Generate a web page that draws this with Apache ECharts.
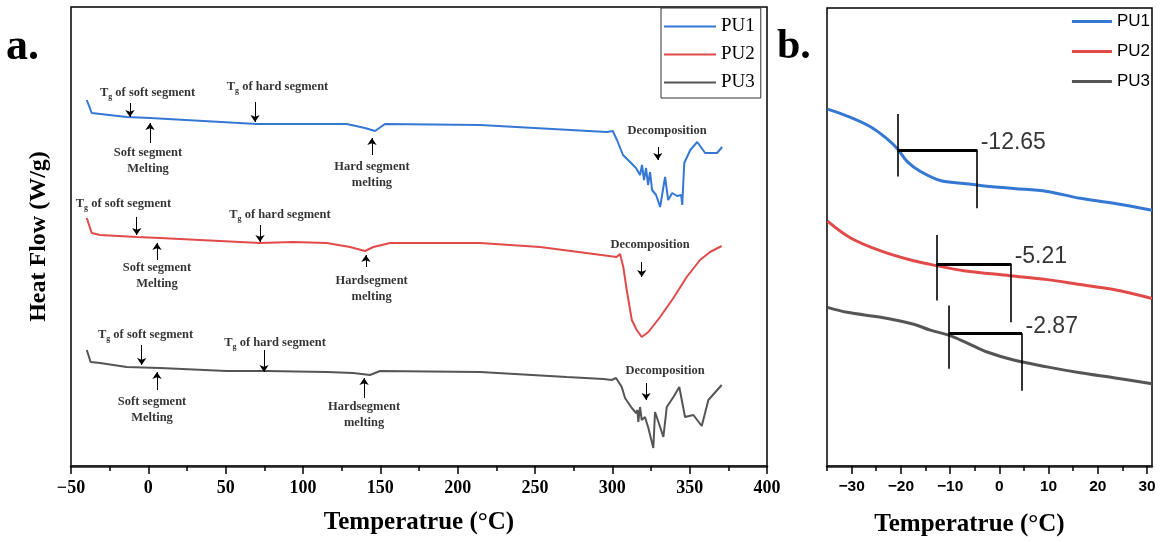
<!DOCTYPE html>
<html><head><meta charset="utf-8">
<script src="https://cdn.jsdelivr.net/npm/echarts@6/dist/echarts.min.js"></script>
<style>html,body{margin:0;padding:0;background:#fff}#c{width:1164px;height:542px}</style>
</head><body><div id="c"></div>
<script>
// ---------- DATA ----------
const seriesNames = ['PU1', 'PU2', 'PU3'];
const colors = ['#3578d4', '#e24a4a', '#555555'];

// Panel a: [temperature °C, heat flow (arbitrary, offset)]
const aPU1 = [[-39.8,3.66],[-36.6,3.53],[-14.0,3.49],[1.1,3.48],[70.1,3.42],[128.3,3.42],[140.1,3.38],[146.6,3.35],[153.0,3.42],[214.5,3.41],[296.4,3.34],[300.3,3.35],[303.0,3.26],[306.9,3.11],[311.5,3.04],[315.3,2.98],[317.9,2.91],[319.2,3.01],[320.5,2.86],[321.8,2.98],[323.1,2.81],[324.4,2.94],[325.7,2.76],[328.3,2.71],[330.9,2.59],[334.1,2.89],[336.1,2.66],[338.7,2.73],[341.9,2.70],[344.5,2.71],[345.2,2.61],[346.5,3.03],[350.4,3.16],[354.9,3.24],[360.0,3.13],[367.7,3.13],[371.0,3.19]];
const aPU2 = [[-39.8,2.48],[-36.6,2.33],[-31.2,2.31],[-7.5,2.29],[7.5,2.28],[46.3,2.25],[72.2,2.23],[93.7,2.24],[115.3,2.23],[130.4,2.19],[140.1,2.15],[145.5,2.19],[156.3,2.23],[214.5,2.23],[253.3,2.19],[302.8,2.09],[305.0,2.12],[307.1,1.99],[309.3,1.76],[312.6,1.46],[315.8,1.36],[319.0,1.29],[323.3,1.34],[330.9,1.49],[339.5,1.68],[348.1,1.89],[356.7,2.06],[363.2,2.14],[370.7,2.20]];
const aPU3 = [[-39.8,1.16],[-37.3,1.04],[-31.2,1.03],[-14.0,0.99],[7.5,0.98],[50.7,0.95],[76.5,0.95],[115.3,0.94],[132.5,0.93],[143.3,0.91],[149.8,0.95],[214.5,0.94],[270.5,0.89],[294.2,0.87],[299.6,0.86],[302.4,0.88],[306.1,0.79],[308.2,0.68],[312.6,0.58],[315.3,0.53],[316.2,0.56],[316.8,0.44],[317.9,0.59],[319.0,0.46],[321.1,0.49],[323.3,0.38],[326.5,0.18],[327.6,0.54],[330.9,0.39],[333.0,0.29],[335.2,0.59],[339.5,0.69],[343.3,0.79],[347.0,0.49],[352.4,0.51],[357.8,0.40],[362.1,0.66],[370.7,0.81]];

// Panel a annotations: [T, value, text]
const annotTextA = [
  [-0.5,3.73,'{t|T}{g|g}{t| of soft segment}'], [83.5,3.79,'{t|T}{g|g}{t| of hard segment}'],
  [-0.2,3.05,'Soft segment\nMelting'], [144.6,2.91,'Hard segment\nmelting'], [335.4,3.35,'Decomposition'],
  [-16.1,2.62,'{t|T}{g|g}{t| of soft segment}'], [85.1,2.51,'{t|T}{g|g}{t| of hard segment}'],
  [5.6,1.90,'Soft segment\nMelting'], [144.4,1.775,'Hardsegment\nmelting'], [324.4,2.21,'Decomposition'],
  [-1.8,1.31,'{t|T}{g|g}{t| of soft segment}'], [81.9,1.23,'{t|T}{g|g}{t| of hard segment}'],
  [2.4,0.565,'Soft segment\nMelting'], [139.5,0.515,'Hardsegment\nmelting'], [334.1,0.95,'Decomposition']
];
// arrows: [T, from value, to value]
const arrowsA = [
  [-11.9,3.63,3.49],[69.0,3.64,3.44],[1.1,3.23,3.43],[144.6,3.11,3.28],[329.4,3.19,3.06],
  [-7.5,2.49,2.31],[72.2,2.41,2.24],[5.6,2.06,2.23],[140.7,1.99,2.11],[319.0,2.04,1.89],
  [-4.3,1.21,1.01],[74.8,1.16,0.94],[5.6,0.76,0.94],[139.5,0.68,0.88],[321.8,0.83,0.66]
];
const tickLabelsA = [-50,0,50,100,150,200,250,300,350,400];

// Panel b
const bPU1 = [[-34.9,3.60],[-30.9,3.53],[-26.1,3.42],[-22.8,3.30],[-20.7,3.20],[-18.7,3.07],[-16.0,2.97],[-12.0,2.88],[-7.2,2.85],[-3.9,2.83],[2.9,2.80],[9.7,2.77],[16.4,2.70],[23.2,2.65],[31.0,2.58]];
const bPU2 = [[-34.9,2.47],[-30.2,2.30],[-24.1,2.17],[-17.4,2.07],[-12.6,2.02],[-7.2,1.97],[2.2,1.92],[9.7,1.88],[16.4,1.83],[23.2,1.78],[31.0,1.69]];
const bPU3 = [[-34.9,1.60],[-30.9,1.55],[-24.1,1.50],[-17.4,1.43],[-14.0,1.37],[-10.3,1.32],[-6.5,1.24],[-2.5,1.15],[2.9,1.07],[9.7,1.00],[16.4,0.94],[23.2,0.89],[31.0,0.83]];
// Tg construction: onset T, end T, left-bar top/bottom, step value, right-bar bottom
const tgOnsetT = [-20.7, -12.8, -10.3];
const tgEndT = [-4.5, 2.4, 4.6];
const tgLeftTop = [3.55, 2.33, 1.62];
const tgLeftBottom = [2.92, 1.67, 0.98];
const tgStep = [3.19, 2.04, 1.34];
const tgRightBottom = [2.60, 1.45, 0.76];
const tgValues = ['-12.65', '-5.21', '-2.87'];
const tickLabelsB = [-30,-20,-10,0,10,20,30];
const minorTicksB = [-35,-25,-15,-5,5,15,25];

// ---------- CHART ----------
const SERIF = "'Liberation Serif','Times New Roman',serif";
const SANS = "'Liberation Sans',Arial,sans-serif";
const minus = v => String(v).replace('-', '\u2212');

function line(name, data, color, width, idx) {
  return {type:'line', name, data, xAxisIndex:idx, yAxisIndex:idx, symbol:'none',
    lineStyle:{color, width}, itemStyle:{color}, animation:false, z:3, smooth: idx === 1 ? 0.35 : false};
}

const annotSeriesA = {
  type:'scatter', xAxisIndex:0, yAxisIndex:0, symbolSize:1, itemStyle:{color:'rgba(0,0,0,0)'},
  silent:true, animation:false, z:5,
  data: annotTextA.map(d => ({value:[d[0], d[1]], label:{formatter:d[2]}})),
  label:{show:true, position:'inside', color:'#000', fontFamily:SERIF, fontWeight:'bold', fontSize:12.5,
    lineHeight:16, align:'center', verticalAlign:'middle',
    rich:{t:{fontFamily:SERIF, fontWeight:'bold', fontSize:12.5, lineHeight:16, color:'#000'},
          g:{fontFamily:SERIF, fontWeight:'bold', fontSize:8, lineHeight:9, verticalAlign:'bottom', color:'#000'}}},
  markLine:{silent:true, animation:false, symbol:['none','arrow'], symbolSize:7,
    label:{show:false}, emphasis:{disabled:true},
    lineStyle:{color:'#000', width:1, type:'solid'},
    data: arrowsA.map(a => [{coord:[a[0], a[1]]}, {coord:[a[0], a[2]]}])}
};

const bracketSegs = [];
for (let i = 0; i < tgOnsetT.length; i++) {
  bracketSegs.push([{coord:[tgOnsetT[i], tgLeftTop[i]], lineStyle:{width:1.6}}, {coord:[tgOnsetT[i], tgLeftBottom[i]]}]);
  bracketSegs.push([{coord:[tgOnsetT[i], tgStep[i]], lineStyle:{width:3}}, {coord:[tgEndT[i], tgStep[i]]}]);
  bracketSegs.push([{coord:[tgEndT[i], tgStep[i]], lineStyle:{width:1.6}}, {coord:[tgEndT[i], tgRightBottom[i]]}]);
}
const annotSeriesB = {
  type:'scatter', xAxisIndex:1, yAxisIndex:1, symbolSize:1, itemStyle:{color:'rgba(0,0,0,0)'},
  silent:true, animation:false, z:5,
  data: tgValues.map((t, i) => ({value:[tgEndT[i], tgStep[i]], label:{formatter:t}})),
  label:{show:true, position:'right', distance:3, offset:[0,-7], color:'#000', fontFamily:SANS, fontSize:23},
  markLine:{silent:true, animation:false, symbol:['none','none'], label:{show:false}, emphasis:{disabled:true},
    lineStyle:{color:'#000', width:2, type:'solid'}, data: bracketSegs}
};

const chart = echarts.init(document.getElementById('c'), null, {renderer:'canvas'});
chart.setOption({
  animation:false,
  backgroundColor:'#fff',
  grid:[
    {left:71, right:397, top:7, bottom:76, show:true, borderColor:'#000', borderWidth:1.5, containLabel:false},
    {left:827, right:12, top:8, bottom:72, show:true, borderColor:'#000', borderWidth:1.5, containLabel:false}
  ],
  xAxis:[
    {gridIndex:0, type:'value', position:'bottom', min:tickLabelsA[0], max:tickLabelsA[tickLabelsA.length-1], interval:50,
     axisLine:{show:true, onZero:false, lineStyle:{color:'#222', width:2.5}},
     axisTick:{show:true, length:8, lineStyle:{color:'#000', width:1.5}},
     minorTick:{show:true, splitNumber:2, length:5, lineStyle:{color:'#000', width:1.5}},
     splitLine:{show:false}, minorSplitLine:{show:false},
     axisLabel:{color:'#000', fontFamily:SERIF, fontWeight:'bold', fontSize:18, margin:13, formatter:minus},
     name:'Temperatrue (°C)', nameLocation:'middle', nameGap:44,
     nameTextStyle:{color:'#000', fontFamily:SERIF, fontWeight:'bold', fontSize:25}},
    {gridIndex:1, type:'value', position:'bottom', min:-35, max:31,
     axisLine:{show:true, onZero:false, lineStyle:{color:'#222', width:2.5}},
     axisTick:{show:true, length:8, customValues:tickLabelsB, lineStyle:{color:'#000', width:1.5}},
     splitLine:{show:false},
     axisLabel:{color:'#000', fontFamily:SANS, fontWeight:'bold', fontSize:15.5, margin:13, customValues:tickLabelsB, formatter:minus},
     name:'Temperatrue (°C)', nameLocation:'middle', nameGap:46,
     nameTextStyle:{color:'#000', fontFamily:SERIF, fontWeight:'bold', fontSize:25, padding:[0,40,0,0]}},
    {gridIndex:1, type:'value', position:'bottom', min:-35, max:31,
     axisLine:{show:false, onZero:false}, splitLine:{show:false}, axisLabel:{show:false},
     axisTick:{show:true, inside:false, length:5, customValues:minorTicksB, lineStyle:{color:'#000', width:1.5}}}
  ],
  yAxis:[
    {gridIndex:0, type:'value', min:0, max:4.59, axisLine:{show:false}, axisTick:{show:false},
     axisLabel:{show:false}, splitLine:{show:false},
     name:'Heat Flow (W/g)', nameLocation:'middle', nameGap:20, nameRotate:90,
     nameTextStyle:{color:'#000', fontFamily:SERIF, fontWeight:'bold', fontSize:24}},
    {gridIndex:1, type:'value', min:0, max:4.62, axisLine:{show:false}, axisTick:{show:false},
     axisLabel:{show:false}, splitLine:{show:false}}
  ],
  legend:[
    {left:661, top:8, orient:'vertical', icon:'rect', itemWidth:52, itemHeight:2, itemGap:9, padding:[9,6,6,3],
     borderColor:'#333', borderWidth:1, backgroundColor:'#fff', selectedMode:false,
     textStyle:{fontFamily:SERIF, fontSize:19, color:'#000'},
     data:seriesNames},
    {right:14, top:13, orient:'vertical', icon:'rect', itemWidth:40, itemHeight:3, itemGap:13, padding:0,
     selectedMode:false, textStyle:{fontFamily:SANS, fontSize:17, color:'#000'},
     data:seriesNames}
  ],
  graphic:[
    {type:'text', left:6, top:26, style:{text:'a.', font:"bold 44px 'Liberation Serif', serif", fill:'#000'}},
    {type:'text', left:777, top:26, style:{text:'b.', font:"bold 42px 'Liberation Serif', serif", fill:'#000'}}
  ],
  series:[
    line(seriesNames[0], aPU1, colors[0], 2, 0),
    line(seriesNames[1], aPU2, colors[1], 2, 0),
    line(seriesNames[2], aPU3, colors[2], 2, 0),
    line(seriesNames[0], bPU1, colors[0], 3, 1),
    line(seriesNames[1], bPU2, colors[1], 3, 1),
    line(seriesNames[2], bPU3, colors[2], 3, 1),
    annotSeriesA,
    annotSeriesB
  ]
});
</script></body></html>
